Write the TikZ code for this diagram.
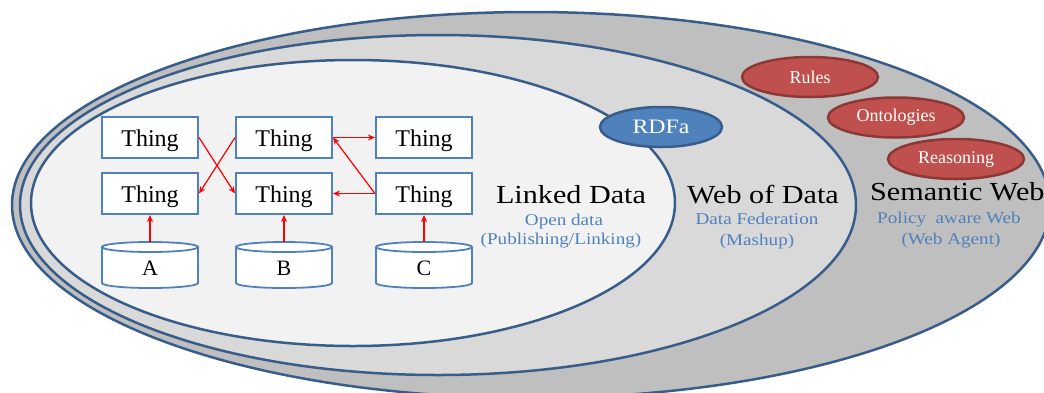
\documentclass[tikz,border=0pt]{standalone}
\usepackage{fontspec}
\setmainfont{Liberation Serif}
\newfontfamily\widefont[FakeStretch=1.16]{Liberation Serif}
\usetikzlibrary{shapes.geometric,arrows.meta}
\definecolor{ringline}{HTML}{385D8A}
\definecolor{grayA}{HTML}{F2F2F2}
\definecolor{grayB}{HTML}{D9D9D9}
\definecolor{grayC}{HTML}{BFBFBF}
\definecolor{accblue}{HTML}{4F81BD}
\definecolor{accred}{HTML}{C0504D}
\definecolor{accredline}{HTML}{8C3836}
\definecolor{arrowred}{HTML}{FF0000}
\newcommand\thingfont{\fontsize{24}{26}\selectfont}
\newcommand\bigfont{\widefont\fontsize{26}{28}\selectfont}
\newcommand\smallfont{\widefont\fontsize{16.5}{18}\selectfont}
\newcommand\ellfont{\fontsize{18}{20}\selectfont}
\newcommand\rdfafont{\widefont\fontsize{20.5}{22}\selectfont}
\tikzset{
  ring/.style={draw=ringline,line width=2.5pt},
  thing/.style={draw=accblue,line width=2pt,fill=white,rectangle,minimum width=96pt,minimum height=41pt,inner sep=0pt,text height=18pt,text depth=0pt,font=\thingfont},
  cylline/.style={draw=accblue,line width=1.8pt},
  cyltext/.style={inner sep=0pt,minimum width=96pt,minimum height=46pt,text height=20pt,text depth=0pt,font=\fontsize{22}{24}\selectfont},
  link/.style={draw=arrowred,line width=1.2pt,-{Stealth[length=7pt,width=6pt]}},
  redell/.style={ellipse,draw=accredline,fill=accred,line width=2.5pt,minimum width=136pt,minimum height=40pt,inner sep=0pt,text=white,font=\ellfont},
  blueell/.style={ellipse,draw=ringline,fill=accblue,line width=2.5pt,minimum width=122pt,minimum height=40pt,inner sep=0pt,text=white,font=\rdfafont},
  biglabel/.style={anchor=base,inner sep=0pt,font=\bigfont},
  sublabel/.style={anchor=base,inner sep=0pt,text=accblue,font=\smallfont}
}
\begin{document}
\begin{tikzpicture}[x=1pt,y=-1pt]
\useasboundingbox (0,0) rectangle (1044,392);
\clip (0,0) rectangle (1044,392);
\fill[white] (0,0) rectangle (1044,392);
% nested ellipses
\draw[ring,fill=grayC] (531,205) ellipse [x radius=519,y radius=193];
\draw[ring,fill=grayB] (438,205) ellipse [x radius=418,y radius=170];
\draw[ring,fill=grayA] (353,203) ellipse [x radius=322,y radius=143];
% Thing boxes
\node[thing] (t11) at (150,137.5) {Thing};
\node[thing] (t12) at (284,137.5) {Thing};
\node[thing] (t13) at (424,137.5) {Thing};
\node[thing] (t21) at (150,193.5) {Thing};
\node[thing] (t22) at (284,193.5) {Thing};
\node[thing] (t23) at (424,193.5) {Thing};
% cylinders
\foreach \cx in {150,284,424}{
  \fill[white] (\cx-48,247) -- (\cx-48,283) arc[start angle=180,end angle=0,x radius=48,y radius=5] -- (\cx+48,247) -- cycle;
  \draw[cylline] (\cx-48,247) -- (\cx-48,283) arc[start angle=180,end angle=0,x radius=48,y radius=5] -- (\cx+48,247);
  \draw[cylline,fill=white] (\cx,247) ellipse [x radius=48,y radius=5];
}
\node[cyltext] (cA) at (150,265) {A};
\node[cyltext] (cB) at (284,265) {B};
\node[cyltext] (cC) at (424,265) {C};
% links
\draw[link] (cA.north) -- (t21.south);
\draw[link] (cB.north) -- (t22.south);
\draw[link] (cC.north) -- (t23.south);
\draw[link] (t11.east) -- (t22.west);
\draw[link] (t12.west) -- (t21.east);
\draw[link] (t12.east) -- (t13.west);
\draw[link] (t23.west) -- (t12.east);
\draw[link] (t23.west) -- (t22.east);
% ellipses
\node[blueell] (rdfa) at (661,127) {RDFa};
\node[redell] (rules) at (810,77) {Rules};
\node[redell] (onto) at (896,117.5) {Ontologies};
\node[redell] (reas) at (956,159) {Reasoning};
% labels
\node[biglabel] (ld) at (571,203) {Linked Data};
\node[sublabel] (ld1) at (564,225) {Open data};
\node[sublabel] (ld2) at (561,244) {(Publishing/Linking)};
\node[biglabel] (wd) at (763,203) {Web of Data};
\node[sublabel] (wd1) at (757,224) {Data Federation};
\node[sublabel] (wd2) at (757,245) {(Mashup)};
\node[biglabel,anchor=base west] (sw) at (870,200) {Semantic Web};
\node[sublabel] (sw1) at (949,223) {Policy\ \ aware Web};
\node[sublabel] (sw2) at (951,244) {(Web Agent)};
\end{tikzpicture}
\end{document}
